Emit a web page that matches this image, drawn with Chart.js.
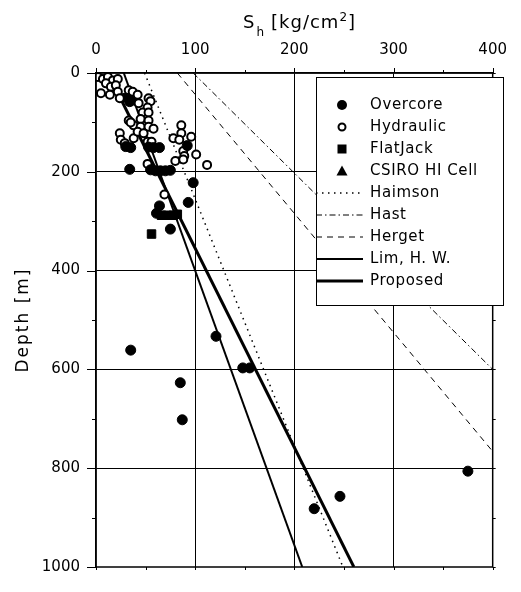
<!DOCTYPE html>
<html>
<head>
<meta charset="utf-8">
<script src="https://cdn.jsdelivr.net/npm/chart.js@4.4.1/dist/chart.umd.min.js"></script>
<style>
  html, body { margin: 0; padding: 0; background: #fff; }
</style>
</head>
<body>
<canvas id="chart" width="521" height="592"></canvas>
<script>
// S_h [kg/cm2] vs depth [m]
const overcore = [
  [35, 561], [85, 627], [87, 702], [121, 533], [148, 597], [155, 597],
  [375, 806], [246, 857], [220, 882], [98, 222], [93, 262], [92, 147],
  [34, 195], [75, 316], [64, 269], [61, 284], [55, 196], [60, 198],
  [65, 198], [70, 198], [75, 197], [53, 150], [58, 151], [64, 151],
  [30, 149], [35, 151], [34, 58]
];
const hydraulic = [
  [2, 8], [7, 12], [12, 8], [17, 15], [22, 12], [10, 21], [15, 28], [20, 25],
  [5, 41], [14, 44], [22, 38], [24, 51], [33, 35], [37, 38], [42, 44], [53, 51],
  [43, 61], [55, 57], [52, 70], [47, 80], [53, 80], [45, 93], [53, 96], [38, 106],
  [45, 109], [53, 109], [33, 96], [58, 113], [24, 122], [25, 135], [29, 142],
  [38, 132], [42, 119], [48, 122], [52, 139], [56, 139], [78, 132], [86, 106],
  [86, 122], [84, 135], [96, 129], [88, 158], [89, 168], [101, 165], [80, 178],
  [52, 184], [112, 186], [69, 246], [88, 175], [35, 100]
];
const flatjack = [
  [66, 288], [72, 288], [78, 288], [82, 286], [56, 326], [31, 50], [36, 52], [39, 56]
];
const csiro = [];

// trend lines: [S_h, depth] end points
const haimson = [[49, 0], [249, 1000]];
const hast = [[98, 0], [400, 600]];
const herget = [[82, 0], [400, 766]];
const limHW = [[28, 0], [208, 1000]];
const proposed = [[12, 0], [260, 1000]];

const xTicks = [0, 100, 200, 300, 400];
const yTicks = [0, 200, 400, 600, 800, 1000];

const toXY = arr => arr.map(p => ({ x: p[0], y: p[1] }));
const black = '#000';
const tickFont = { family: 'DejaVu Sans', size: 15 };

function lineSet(label, data, width, dash) {
  return {
    label: label,
    data: toXY(data),
    showLine: true,
    borderColor: black,
    borderWidth: width,
    borderDash: dash,
    pointRadius: 0,
    fill: false,
    tension: 0
  };
}

const datasets = [
  { label: 'Overcore', data: toXY(overcore), pointStyle: 'circle', pointRadius: 5,
    backgroundColor: black, borderColor: black, borderWidth: 1 },
  { label: 'Hydraulic', data: toXY(hydraulic), pointStyle: 'circle', pointRadius: 4,
    backgroundColor: '#fff', borderColor: black, borderWidth: 2 },
  { label: 'FlatJack', data: toXY(flatjack), pointStyle: 'rect', pointRadius: 6,
    backgroundColor: black, borderColor: black, borderWidth: 1 },
  { label: 'CSIRO HI Cell', data: toXY(csiro), pointStyle: 'triangle', pointRadius: 6,
    backgroundColor: black, borderColor: black, borderWidth: 1 },
  lineSet('Haimson', haimson, 1.5, [1.5, 4.5]),
  lineSet('Hast', hast, 1, [6, 3, 1.5, 3]),
  lineSet('Herget', herget, 1, [6, 5]),
  lineSet('Lim, H. W.', limHW, 2, []),
  lineSet('Proposed', proposed, 3, [])
];

function seg(ctx, x1, y1, x2, y2) {
  ctx.beginPath();
  ctx.moveTo(x1, y1);
  ctx.lineTo(x2, y2);
  ctx.stroke();
}

// frame, outer tick marks, titles and the boxed legend
const decor = {
  id: 'decor',
  afterDraw(chart) {
    const ctx = chart.ctx;
    const a = chart.chartArea;
    const xs = chart.scales.x, ys = chart.scales.y;
    ctx.save();
    ctx.strokeStyle = black;
    ctx.lineWidth = 1;
    for (let v = 0; v <= 400; v += 50) {
      const px = Math.round(xs.getPixelForValue(v)) + 0.5;
      seg(ctx, px, a.top, px, a.top - (v % 100 === 0 ? 5 : 3));
      seg(ctx, px, a.bottom, px, a.bottom + 3);
    }
    for (let d = 0; d <= 1000; d += 100) {
      const py = Math.round(ys.getPixelForValue(d)) + 0.5;
      seg(ctx, a.left, py, a.left - (d % 200 === 0 ? 9 : 4), py);
      seg(ctx, a.right, py, a.right + 3, py);
    }
    ctx.lineWidth = 1.5;
    ctx.strokeRect(a.left, a.top, a.right - a.left, a.bottom - a.top);

    // legend
    const lx = 316, ly = 77, lw = 187, lh = 228;
    ctx.fillStyle = '#fff';
    ctx.fillRect(lx, ly, lw, lh);
    ctx.lineWidth = 1;
    ctx.strokeRect(lx + 0.5, ly + 0.5, lw, lh);
    ctx.font = '15px "DejaVu Sans"';
    ctx.letterSpacing = '0.6px';
    ctx.textBaseline = 'middle';
    chart.data.datasets.forEach((ds, i) => {
      const y = 105 + i * 22;
      const mx = 342;
      ctx.fillStyle = black;
      ctx.strokeStyle = black;
      if (ds.showLine) {
        ctx.lineWidth = ds.borderWidth;
        ctx.setLineDash(ds.borderDash);
        seg(ctx, lx, y, 363, y);
        ctx.setLineDash([]);
      } else if (ds.pointStyle === 'circle' && ds.backgroundColor === '#fff') {
        ctx.lineWidth = 2;
        ctx.beginPath();
        ctx.arc(mx, y, 3.5, 0, Math.PI * 2);
        ctx.stroke();
      } else if (ds.pointStyle === 'circle') {
        ctx.beginPath();
        ctx.arc(mx, y, 5, 0, Math.PI * 2);
        ctx.fill();
      } else if (ds.pointStyle === 'rect') {
        ctx.fillRect(mx - 4.5, y - 4.5, 9, 9);
      } else {
        ctx.beginPath();
        ctx.moveTo(mx, y - 5.5);
        ctx.lineTo(mx + 5.5, y + 4.5);
        ctx.lineTo(mx - 5.5, y + 4.5);
        ctx.closePath();
        ctx.fill();
      }
      ctx.textAlign = 'left';
      ctx.fillText(ds.label, 370, y);
    });

    // x title: S_h [kg/cm2], pieces placed one after another
    ctx.fillStyle = black;
    ctx.textAlign = 'left';
    ctx.textBaseline = 'alphabetic';
    ctx.letterSpacing = '1px';
    const big = '18px "DejaVu Sans"', small = '12px "DejaVu Sans"';
    let tx = 243;
    ctx.font = big;
    ctx.fillText('S', tx, 28);
    tx += ctx.measureText('S').width;
    ctx.font = small;
    ctx.fillText('h', tx + 1, 36);
    tx += ctx.measureText('h').width + 7;
    ctx.font = big;
    ctx.fillText('[kg/cm', tx, 28);
    tx += ctx.measureText('[kg/cm').width;
    ctx.font = small;
    ctx.fillText('2', tx, 21);
    tx += ctx.measureText('2').width;
    ctx.font = big;
    ctx.fillText(']', tx, 28);

    // y title
    ctx.translate(24, (a.top + a.bottom) / 2);
    ctx.rotate(-Math.PI / 2);
    ctx.textAlign = 'center';
    ctx.textBaseline = 'middle';
    ctx.font = '17px "DejaVu Sans"';
    ctx.letterSpacing = '2px';
    ctx.fillText('Depth [m]', 0, 0);
    ctx.restore();
  }
};

new Chart(document.getElementById('chart'), {
  type: 'scatter',
  data: { datasets: datasets },
  options: {
    responsive: false,
    animation: false,
    devicePixelRatio: 1,
    layout: { padding: { top: 0, left: 0, right: 20, bottom: 6 } },
    plugins: {
      legend: { display: false },
      tooltip: { enabled: false }
    },
    scales: {
      x: {
        type: 'linear',
        position: 'top',
        min: 0,
        max: 400,
        afterFit: s => { s.height = 73; },
        afterBuildTicks: s => { s.ticks = xTicks.map(v => ({ value: v })); },
        ticks: { font: tickFont, color: black, padding: 14, callback: v => String(v) },
        grid: {
          drawTicks: false,
          lineWidth: 1,
          color: c => (c.tick && c.tick.value > 0 && c.tick.value < 400) ? black : 'rgba(0,0,0,0)'
        },
        border: { color: black, width: 1.5 }
      },
      y: {
        type: 'linear',
        reverse: true,
        min: 0,
        max: 1000,
        afterFit: s => { s.width = 96; },
        afterBuildTicks: s => { s.ticks = yTicks.map(v => ({ value: v })); },
        ticks: { font: tickFont, color: black, padding: 16, callback: v => String(v) },
        grid: {
          drawTicks: false,
          lineWidth: 1,
          color: c => (c.tick && c.tick.value > 0 && c.tick.value < 1000) ? black : 'rgba(0,0,0,0)'
        },
        border: { color: black, width: 1.5 }
      }
    }
  },
  plugins: [decor]
});
</script>
</body>
</html>
